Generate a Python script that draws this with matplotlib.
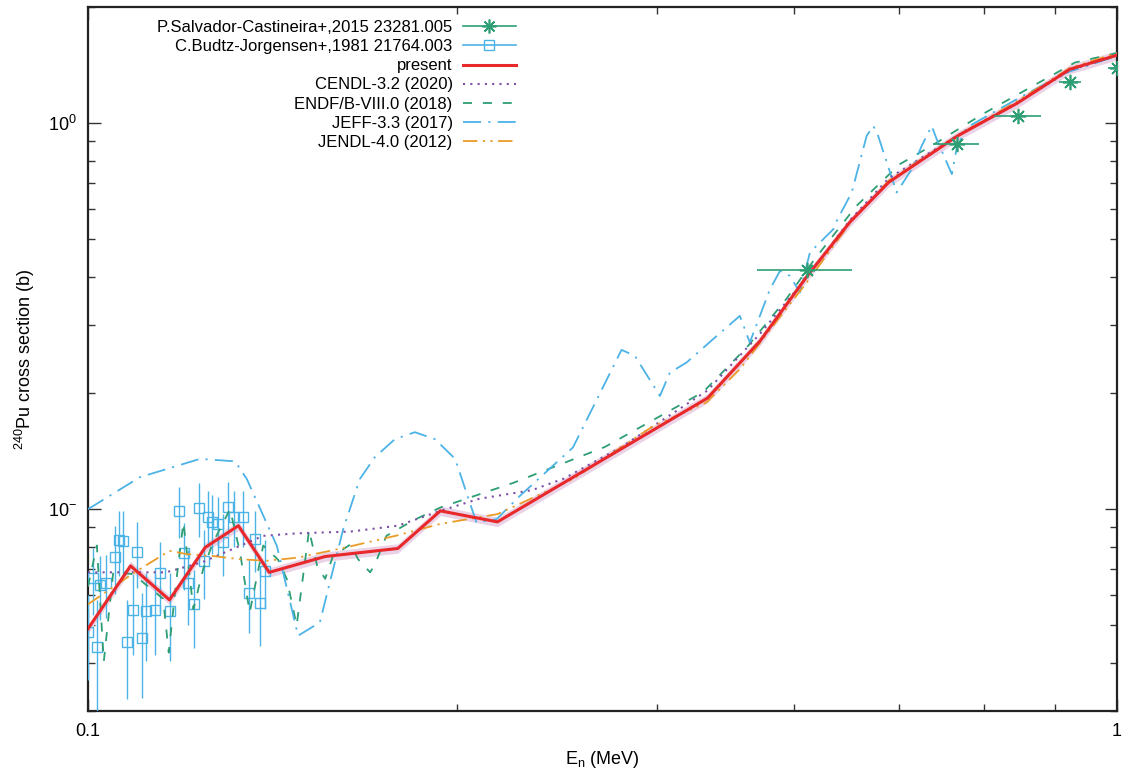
import matplotlib
matplotlib.use("Agg")
import matplotlib.pyplot as plt
from matplotlib.lines import Line2D
import numpy as np

plt.rcParams['font.family'] = ['Liberation Sans', 'DejaVu Sans']
plt.rcParams['mathtext.default'] = 'regular'
plt.rcParams['font.size'] = 12

# ---------------- data ----------------
present_x = [0.1, 0.11, 0.12, 0.13, 0.14, 0.15, 0.17, 0.2, 0.22, 0.25, 0.3, 0.4, 0.45, 0.5, 0.55, 0.6, 0.7, 0.8, 0.9, 1.0]
present_y = [0.049, 0.0713, 0.0582, 0.0796, 0.0906, 0.0686, 0.0754, 0.0791, 0.099, 0.0927, 0.1235, 0.194, 0.273, 0.402, 0.554, 0.703, 0.927, 1.127, 1.38, 1.50]

cendl_x = [0.1, 0.119, 0.129, 0.148, 0.16, 0.18, 0.2, 0.22, 0.24, 0.27, 0.29, 0.33, 0.4, 0.45, 0.5, 0.55, 0.6, 0.7, 0.8, 0.9, 1.0]
cendl_y = [0.0686, 0.0686, 0.0728, 0.0853, 0.0866, 0.0875, 0.0906, 0.099, 0.1064, 0.112, 0.12, 0.145, 0.203, 0.285, 0.40, 0.56, 0.72, 0.93, 1.13, 1.37, 1.50]

endf_x = [0.1, 0.102, 0.1036, 0.1058, 0.1106, 0.114, 0.1183, 0.1198, 0.1219, 0.1238, 0.1266, 0.1294, 0.1323, 0.1374,
          0.1405, 0.1436, 0.148, 0.153, 0.156, 0.1595, 0.164, 0.167, 0.170, 0.173, 0.180, 0.183, 0.188, 0.19, 0.195,
          0.207, 0.22, 0.259, 0.318, 0.396, 0.437, 0.477, 0.506, 0.558, 0.615, 0.66, 0.74, 0.818, 0.91, 1.0]
endf_y = [0.063, 0.0805, 0.0403, 0.0686, 0.0679, 0.0635, 0.0586, 0.0425, 0.0659, 0.0925, 0.0551, 0.070, 0.082, 0.10,
          0.0774, 0.054, 0.0805, 0.074, 0.066, 0.050, 0.0882, 0.0713, 0.066, 0.0756, 0.0811, 0.0742, 0.0686, 0.0719, 0.0853,
          0.0935, 0.101, 0.117, 0.145, 0.201, 0.263, 0.35, 0.437, 0.61, 0.783, 0.873, 1.055, 1.225, 1.436, 1.52]

jeff_x = [0.1, 0.1123, 0.1285, 0.139, 0.1427, 0.1526, 0.160, 0.168, 0.177, 0.1837, 0.190, 0.1987, 0.2078, 0.2174,
          0.2274, 0.2385, 0.2495, 0.2629, 0.296, 0.330, 0.340, 0.3596, 0.3677, 0.3817, 0.405, 0.430, 0.4397, 0.460,
          0.4704, 0.481, 0.4918, 0.503, 0.530, 0.534, 0.5523, 0.5711, 0.5797, 0.586, 0.6107, 0.6317, 0.6459, 0.6605,
          0.668, 0.691, 0.6987, 0.7145, 0.8046, 0.8935, 1.0]
jeff_y = [0.1, 0.121, 0.135, 0.133, 0.1196, 0.0803, 0.047, 0.0509, 0.0887, 0.1196, 0.1364, 0.1518, 0.1583, 0.1518,
          0.135, 0.0924, 0.0942, 0.1083, 0.1445, 0.2587, 0.2495, 0.1965, 0.2259, 0.2399, 0.2757, 0.3168, 0.2703, 0.3715,
          0.4143, 0.4022, 0.3642, 0.4624, 0.5313, 0.558, 0.6613, 0.927, 0.984, 0.927, 0.6613, 0.760, 0.873, 0.984,
          0.909, 0.738, 0.865, 0.975, 1.166, 1.353, 1.494]

jendl_x = [0.1, 0.111, 0.12, 0.1247, 0.1323, 0.1405, 0.149, 0.16, 0.178, 0.199, 0.22, 0.25, 0.296, 0.354, 0.399, 0.43, 0.474, 0.4994, 0.55, 0.6, 0.7, 0.8, 0.9, 1.0]
jendl_y = [0.0567, 0.0686, 0.078, 0.0765, 0.0756, 0.0742, 0.0735, 0.0749, 0.0796, 0.0853, 0.0916, 0.0971, 0.1196, 0.164, 0.189, 0.2306, 0.3233, 0.3866, 0.55, 0.71, 0.93, 1.14, 1.39, 1.52]

salvador_x = [0.4994, 0.6987, 0.802, 0.9, 1.0]
salvador_y = [0.417, 0.882, 1.044, 1.282, 1.394]
salvador_xerr = [0.053, 0.036, 0.042, 0.022, 0.02]

budtz_x = [0.1, 0.102, 0.1011, 0.1027, 0.1041, 0.1062, 0.1072, 0.1082, 0.1115, 0.1092, 0.1105, 0.1128, 0.1139, 0.1162,
           0.1175, 0.1201, 0.1226, 0.124, 0.1251, 0.1267, 0.1281, 0.1296, 0.1308, 0.1319, 0.1338, 0.1353, 0.1368,
           0.1387, 0.1415, 0.1433, 0.1453, 0.147, 0.1486]
budtz_y = [0.0481, 0.044, 0.0662, 0.0636, 0.0643, 0.0752, 0.0831, 0.0828, 0.0775, 0.0452, 0.0548, 0.0465, 0.0545, 0.0548,
           0.0682, 0.0545, 0.099, 0.0769, 0.0642, 0.0567, 0.1006, 0.0734, 0.0957, 0.0927, 0.0918, 0.082, 0.1016,
           0.0957, 0.0957, 0.0608, 0.0839, 0.0573, 0.0692]
budtz_yerr = [0.012, 0.014, 0.013, 0.012, 0.012, 0.015, 0.016, 0.016, 0.015, 0.013, 0.013, 0.014, 0.014, 0.013,
              0.014, 0.014, 0.015, 0.015, 0.014, 0.013, 0.016, 0.015, 0.016, 0.016, 0.016, 0.015, 0.016,
              0.016, 0.016, 0.013, 0.015, 0.013, 0.014]

present_rel_unc = 0.028

x_major = [0.1, 1.0]
x_major_labels = ['0.1', '1']
y_major = [0.1, 1.0]
y_major_labels = ['10$^{-}$', '10$^{0}$']

# ---------------- colours ----------------
c_green = '#2e9e74'
c_blue = '#4cb3e6'
c_purple = '#7d4fa8'
c_orange = '#eb9b28'
c_red = '#e8282a'
c_band = '#ead3e6'

fig = plt.figure(figsize=(11.24, 7.74), dpi=100)
ax = fig.add_axes([88/1124, 1-711/774, (1117-88)/1124, (711-7)/774])
ax.set_xscale('log')
ax.set_yscale('log')

px = np.array(present_x); py = np.array(present_y)
ax.fill_between(px, py*(1-present_rel_unc), py*(1+present_rel_unc), color=c_band, lw=0, zorder=2)

ax.errorbar(budtz_x, budtz_y, yerr=budtz_yerr, fmt='s', ms=7, mfc='none', mec=c_blue, ecolor=c_blue,
            elinewidth=1.0, capsize=0, mew=1.0, zorder=3)
ax.plot(endf_x, endf_y, color=c_green, lw=1.3, ls=(0, (5, 6)), zorder=4)
ax.plot(jeff_x, jeff_y, color=c_blue, lw=1.3, ls=(0, (10, 4, 1.2, 4)), zorder=4)
ax.plot(cendl_x, cendl_y, color=c_purple, lw=1.5, ls=(0, (1, 2.5)), zorder=5)
ax.plot(jendl_x, jendl_y, color=c_orange, lw=1.3, ls=(0, (8, 3, 1.2, 3, 1.2, 3)), zorder=5)
ax.plot(present_x, present_y, color=c_red, lw=2.2, zorder=6)
ax.errorbar(salvador_x, salvador_y, xerr=salvador_xerr, fmt='none', ecolor=c_green, elinewidth=1.2, capsize=0, zorder=7)
ax.plot(salvador_x, salvador_y, ls='none', marker=(8, 2, 0), ms=11, mec=c_green, mew=1.2, color=c_green, zorder=7)

ax.set_xlim(0.1, 1.0)
ax.set_ylim(0.03, 2.0)

ax.set_xticks(x_major)
ax.set_xticklabels(x_major_labels)
ax.set_xticks([0.1 + 0.9*k/7 for k in range(1, 7)], minor=True)
ax.xaxis.set_minor_formatter(matplotlib.ticker.NullFormatter())
ax.set_yticks(y_major)
ax.set_yticklabels(y_major_labels)
ax.yaxis.set_minor_locator(matplotlib.ticker.LogLocator(base=10, subs=np.arange(2, 10)))
ax.yaxis.set_minor_formatter(matplotlib.ticker.NullFormatter())
ax.tick_params(which='both', direction='in', top=True, right=True, labelsize=13, color='#333333')
ax.tick_params(which='major', length=9, width=1.0)
ax.tick_params(which='minor', length=5, width=1.0)
ax.tick_params(axis='x', which='major', pad=9)
ax.tick_params(axis='y', which='major', pad=8)
for s in ax.spines.values():
    s.set_linewidth(1.6)
    s.set_color('#222222')

ax.set_xlabel('E$_{n}$ (MeV)', fontsize=13, labelpad=6)
ax.set_ylabel('$^{240}$Pu cross section (b)', fontsize=13, labelpad=8)

handles = [
    Line2D([], [], color=c_green, lw=1.2, marker=(8, 2, 0), ms=10, mew=1.2),
    Line2D([], [], color=c_blue, lw=1.2, marker='s', ms=7, mfc='none', mew=1.0),
    Line2D([], [], color=c_red, lw=2.2),
    Line2D([], [], color=c_purple, lw=1.5, ls=(0, (1, 2.5))),
    Line2D([], [], color=c_green, lw=1.3, ls=(0, (5, 6))),
    Line2D([], [], color=c_blue, lw=1.3, ls=(0, (10, 4, 1.2, 4))),
    Line2D([], [], color=c_orange, lw=1.3, ls=(0, (8, 3, 1.2, 3, 1.2, 3))),
]
labels = ['P.Salvador-Castineira+,2015 23281.005', 'C.Budtz-Jorgensen+,1981 21764.003', 'present',
          'CENDL-3.2 (2020)', 'ENDF/B-VIII.0 (2018)', 'JEFF-3.3 (2017)', 'JENDL-4.0 (2012)']
leg = ax.legend(handles, labels, loc='upper right', bbox_to_anchor=((516-88)/1029, (711-20)/704),
                markerfirst=False, frameon=False, fontsize=12, handlelength=3.2, handletextpad=0.6,
                labelspacing=0.25, borderpad=0, borderaxespad=0)

fig.savefig('out.png', dpi=100)
